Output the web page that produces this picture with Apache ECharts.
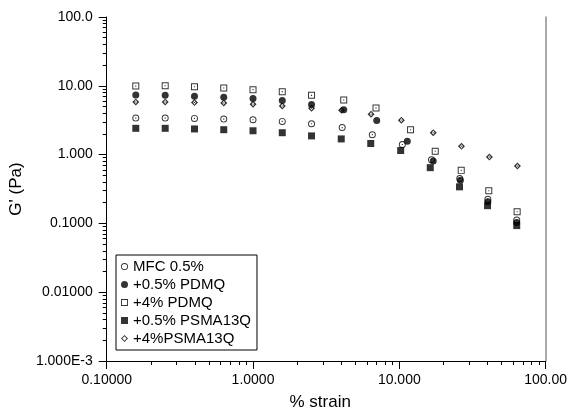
<!DOCTYPE html>
<html>
<head>
<meta charset="utf-8">
<script src="https://cdn.jsdelivr.net/npm/echarts@6/dist/echarts.min.js"></script>
<style>
html,body{margin:0;padding:0;background:#fff;}
#chart{width:570px;height:416px;}
</style>
</head>
<body>
<div id="chart"></div>
<script>
// ---- data ----
const seriesNames = ['MFC 0.5%', '+0.5% PDMQ', '+4% PDMQ', '+0.5% PSMA13Q', '+4%PSMA13Q'];

const strainMFC    = [0.158, 0.251, 0.398, 0.631, 1.0, 1.585, 2.512, 4.07, 6.54, 10.49, 16.6, 25.9, 40.3, 63.5];
const gMFC         = [3.39, 3.39, 3.36, 3.28, 3.21, 3.04, 2.81, 2.47, 1.95, 1.40, 0.841, 0.448, 0.225, 0.112];

const strainPDMQ05 = [0.158, 0.251, 0.398, 0.631, 1.0, 1.585, 2.512, 4.17, 7.01, 11.34, 17.06, 26.15, 40.3, 63.4];
const gPDMQ05      = [7.35, 7.27, 7.03, 6.81, 6.52, 6.10, 5.34, 4.50, 3.14, 1.565, 0.806, 0.423, 0.207, 0.103];

const strainPDMQ4  = [0.158, 0.251, 0.398, 0.631, 1.0, 1.585, 2.512, 4.17, 6.93, 11.94, 17.6, 26.5, 40.9, 63.9];
const gPDMQ4       = [9.9, 10.0, 9.7, 9.27, 8.79, 8.22, 7.27, 6.22, 4.77, 2.30, 1.12, 0.590, 0.298, 0.148];

const strainPSMA05 = [0.158, 0.251, 0.398, 0.631, 1.0, 1.585, 2.512, 4.01, 6.38, 10.22, 16.28, 25.8, 40.1, 63.5];
const gPSMA05      = [2.41, 2.41, 2.36, 2.30, 2.22, 2.08, 1.87, 1.69, 1.45, 1.146, 0.646, 0.340, 0.181, 0.093];

const strainPSMA4  = [0.158, 0.251, 0.398, 0.631, 1.0, 1.585, 2.512, 4.03, 6.41, 10.33, 17.06, 26.6, 41.3, 64.2];
const gPSMA4       = [5.82, 5.82, 5.70, 5.64, 5.39, 5.10, 4.72, 4.42, 3.87, 3.17, 2.08, 1.32, 0.92, 0.683];

const xTickValues = [0.1, 1, 10, 100];
const xTickLabels = ['0.10000', '1.0000', '10.000', '100.00'];
const yTickValues = [0.001, 0.01, 0.1, 1, 10, 100];
const yTickLabels = ['1.000E-3', '0.01000', '0.1000', '1.000', '10.00', '100.0'];

// ---- helpers ----
function pairs(xs, ys) { return xs.map((x, i) => [x, ys[i]]); }
function minorTicks(decades) {
  const out = [];
  decades.forEach(d => { for (let m = 2; m <= 9; m++) out.push(+(d * m).toPrecision(6)); });
  return out;
}
function labelFor(values, labels) {
  return function (v) {
    for (let i = 0; i < values.length; i++) {
      if (Math.abs(Math.log10(v) - Math.log10(values[i])) < 1e-6) return labels[i];
    }
    return '';
  };
}

// marker shapes: ring with a centre dot (open markers), drawn as filled paths
const symOpenCircle = 'path://M5,0A5,5,0,1,1,5,10A5,5,0,1,1,5,0ZM5,1.4A3.6,3.6,0,1,0,5,8.6A3.6,3.6,0,1,0,5,1.4ZM4.2,4.2L5.8,4.2L5.8,5.8L4.2,5.8Z';
const symOpenSquare = 'path://M0,0L10,0L10,10L0,10ZM1.4,1.4L1.4,8.6L8.6,8.6L8.6,1.4ZM4.2,4.2L5.8,4.2L5.8,5.8L4.2,5.8Z';
const symOpenDiamond = 'path://M5,0L10,5L5,10L0,5ZM5,2L3,5L5,8L7,5ZM4.3,4.3L5.7,4.3L5.7,5.7L4.3,5.7Z';
const iconOpenCircle = 'path://M5,0A5,5,0,1,1,5,10A5,5,0,1,1,5,0ZM5,1.3A3.7,3.7,0,1,0,5,8.7A3.7,3.7,0,1,0,5,1.3Z';
const iconOpenSquare = 'path://M0,0L10,0L10,10L0,10ZM1.3,1.3L1.3,8.7L8.7,8.7L8.7,1.3Z';
const iconOpenDiamond = 'path://M5,0L10,5L5,10L0,5ZM5,1.9L1.9,5L5,8.1L8.1,5Z';

const FONT = 'Liberation Sans, Arial, sans-serif';
const chart = echarts.init(document.getElementById('chart'), null, { renderer: 'canvas' });

const option = {
  backgroundColor: '#fff',
  animation: false,
  textStyle: { fontFamily: FONT, color: '#000' },
  grid: { left: 103, right: 22, top: 17, bottom: 52, containLabel: false },
  legend: {
    orient: 'vertical',
    left: 116, top: 255,
    padding: [4, 6, 4, 5],
    itemGap: 3,
    itemWidth: 7, itemHeight: 7,
    borderColor: '#000', borderWidth: 1,
    backgroundColor: '#fff',
    textStyle: { fontFamily: FONT, fontSize: 15, color: '#000', lineHeight: 15 },
    data: [
      { name: seriesNames[0], icon: iconOpenCircle },
      { name: seriesNames[1], icon: 'circle' },
      { name: seriesNames[2], icon: iconOpenSquare },
      { name: seriesNames[3], icon: 'rect' },
      { name: seriesNames[4], icon: iconOpenDiamond }
    ]
  },
  xAxis: [
    {
      type: 'log', logBase: 10, min: 0.1, max: 100, position: 'bottom',
      name: '% strain', nameLocation: 'middle', nameGap: 33,
      nameTextStyle: { fontFamily: FONT, fontSize: 17, color: '#000', padding: [0, 12, 0, 0] },
      axisLine: { show: true, lineStyle: { color: '#000', width: 1 } },
      axisTick: { show: true, inside: false, length: 8, customValues: xTickValues, lineStyle: { color: '#000' } },
      axisLabel: { show: true, margin: 12, fontSize: 14, color: '#000', fontFamily: FONT,
                   customValues: xTickValues, formatter: labelFor(xTickValues, xTickLabels) },
      splitLine: { show: false }, minorTick: { show: false }
    },
    {
      type: 'log', logBase: 10, min: 0.1, max: 100, position: 'bottom',
      axisLine: { show: false },
      axisTick: { show: true, inside: false, length: 4, customValues: minorTicks([0.1, 1, 10]), lineStyle: { color: '#000' } },
      axisLabel: { show: false }, splitLine: { show: false }
    }
  ],
  yAxis: [
    {
      type: 'log', logBase: 10, min: 0.001, max: 100, position: 'left',
      name: "G' (Pa)", nameLocation: 'middle', nameGap: 71, nameRotate: 90,
      nameTextStyle: { fontFamily: FONT, fontSize: 17, color: '#000' },
      axisLine: { show: true, lineStyle: { color: '#000', width: 1 } },
      axisTick: { show: true, inside: false, length: 8, customValues: yTickValues, lineStyle: { color: '#000' } },
      axisLabel: { show: true, margin: 14, fontSize: 14, color: '#000', fontFamily: FONT,
                   customValues: yTickValues, formatter: labelFor(yTickValues, yTickLabels) },
      splitLine: { show: false }, minorTick: { show: false }
    },
    {
      type: 'log', logBase: 10, min: 0.001, max: 100, position: 'left',
      axisLine: { show: false },
      axisTick: { show: true, inside: false, length: 4, customValues: minorTicks([0.001, 0.01, 0.1, 1, 10]), lineStyle: { color: '#000' } },
      axisLabel: { show: false }, splitLine: { show: false }
    },
    {
      type: 'log', logBase: 10, min: 0.001, max: 100, position: 'right',
      axisLine: { show: true, lineStyle: { color: '#8c8c8c', width: 1.5 } },
      axisTick: { show: false }, axisLabel: { show: false }, splitLine: { show: false }
    }
  ],
  series: [
    { name: seriesNames[0], type: 'scatter', data: pairs(strainMFC, gMFC),
      symbol: symOpenCircle, symbolSize: 7, itemStyle: { color: '#000' }, z: 2 },
    { name: seriesNames[1], type: 'scatter', data: pairs(strainPDMQ05, gPDMQ05),
      symbol: 'circle', symbolSize: 7, itemStyle: { color: '#000' }, z: 2 },
    { name: seriesNames[2], type: 'scatter', data: pairs(strainPDMQ4, gPDMQ4),
      symbol: symOpenSquare, symbolSize: 7, itemStyle: { color: '#000' }, z: 2 },
    { name: seriesNames[3], type: 'scatter', data: pairs(strainPSMA05, gPSMA05),
      symbol: 'rect', symbolSize: 7, itemStyle: { color: '#000' }, z: 2 },
    { name: seriesNames[4], type: 'scatter', data: pairs(strainPSMA4, gPSMA4),
      symbol: symOpenDiamond, symbolSize: 7, itemStyle: { color: '#000' }, z: 1 }
  ]
};
chart.setOption(option);
</script>
</body>
</html>
